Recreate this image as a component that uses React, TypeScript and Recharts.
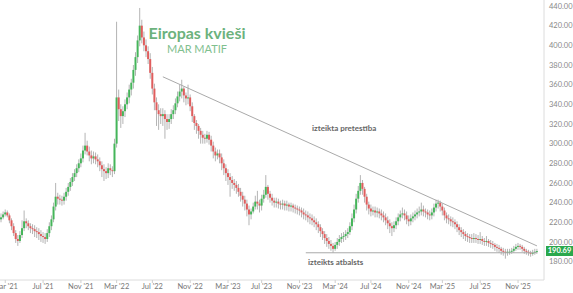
import React from "react";
import { Bar, ComposedChart, ReferenceLine, XAxis, YAxis } from "recharts";

// weekly candles, MAR MATIF wheat, Feb 2021 -> Dec 2025
const opens = [
  223, 225, 228, 230, 227, 222, 216, 209, 203, 201, 207, 214, 221, 219, 216, 214,
  213, 211, 210, 208, 206, 205, 203, 209, 216, 223, 236, 246, 244, 243, 242, 246,
  251, 256, 261, 266, 270, 275, 280, 285, 293, 298, 292, 288, 285, 287, 284, 282,
  278, 274, 272, 270, 275, 273, 272, 300, 347, 335, 328, 333, 340, 347, 355, 362,
  375, 388, 405, 420, 408, 400, 394, 386, 372, 356, 342, 334, 330, 328, 330, 325,
  322, 325, 330, 334, 341, 348, 353, 356, 349, 346, 347, 338, 328, 321, 318, 313,
  309, 306, 305, 309, 304, 298, 292, 288, 290, 286, 280, 275, 270, 266, 263, 260,
  258, 255, 251, 247, 243, 239, 233, 228, 231, 236, 241, 239, 237, 244, 248, 256,
  249, 245, 242, 240, 241, 239, 238, 239, 237, 238, 236, 237, 235, 234, 233, 232,
  230, 228, 227, 225, 224, 222, 220, 218, 215, 211, 208, 204, 201, 198, 196, 193,
  197, 200, 203, 205, 206, 208, 210, 216, 224, 233, 244, 252, 260, 254, 246, 238,
  234, 231, 232, 230, 231, 229, 227, 225, 222, 219, 216, 214, 217, 221, 225, 228,
  229, 227, 223, 221, 224, 226, 228, 230, 231, 233, 231, 230, 228, 227, 230, 235,
  239, 240, 236, 232, 227, 224, 223, 221, 220, 218, 215, 212, 210, 208, 206, 205,
  204, 203, 204, 203, 202, 203, 201, 200, 201, 199, 198, 197, 195, 194, 193, 191,
  190, 189, 190, 190, 191, 193, 195, 196, 195, 193, 191, 190, 189, 188, 189, 190,
];
const highs = [
  229, 231, 233, 232, 229, 224, 219, 212, 207, 211, 222, 232, 224, 222, 219, 218,
  217, 215, 214, 212, 210, 209, 213, 220, 227, 240, 260, 250, 248, 247, 250, 255,
  260, 265, 270, 274, 279, 284, 290, 298, 311, 303, 297, 293, 292, 291, 289, 286,
  282, 279, 276, 280, 279, 277, 305, 424, 355, 340, 338, 345, 352, 360, 366, 380,
  393, 410, 438, 426, 414, 406, 399, 392, 378, 361, 347, 340, 336, 336, 334, 330,
  330, 335, 339, 346, 353, 360, 365, 358, 352, 360, 350, 342, 330, 324, 320, 316,
  313, 310, 313, 312, 308, 302, 296, 294, 294, 290, 284, 279, 274, 270, 267, 264,
  262, 259, 255, 251, 247, 243, 237, 234, 240, 247, 252, 243, 248, 253, 268, 258,
  252, 249, 245, 245, 244, 242, 243, 242, 242, 240, 240, 239, 238, 237, 236, 235,
  234, 232, 231, 229, 228, 226, 224, 221, 218, 214, 211, 208, 205, 202, 199, 200,
  204, 207, 209, 210, 212, 214, 220, 229, 238, 249, 257, 268, 263, 256, 249, 241,
  238, 236, 236, 235, 234, 233, 231, 229, 226, 223, 220, 221, 225, 229, 232, 235,
  233, 231, 227, 228, 230, 232, 234, 236, 240, 237, 234, 233, 232, 234, 239, 243,
  243, 242, 239, 235, 230, 228, 226, 225, 223, 221, 218, 215, 213, 211, 209, 208,
  208, 209, 208, 207, 210, 206, 204, 206, 203, 202, 201, 199, 198, 197, 195, 194,
  193, 193, 193, 194, 196, 198, 199, 198, 197, 195, 193, 192, 191, 192, 193, 193,
];
const lows = [
  220, 223, 226, 225, 219, 212, 206, 199, 196, 199, 204, 211, 214, 212, 209, 208,
  205, 204, 202, 200, 199, 198, 200, 205, 212, 220, 232, 238, 238, 237, 238, 242,
  247, 252, 257, 262, 266, 271, 276, 281, 289, 288, 282, 279, 280, 279, 276, 272,
  266, 262, 264, 265, 268, 266, 269, 296, 323, 316, 320, 327, 335, 341, 349, 356,
  369, 382, 399, 402, 394, 388, 381, 366, 350, 334, 318, 314, 320, 318, 305, 314,
  315, 320, 325, 330, 337, 343, 346, 342, 339, 340, 333, 322, 314, 310, 305, 300,
  300, 300, 301, 299, 292, 285, 282, 284, 280, 273, 268, 262, 258, 246, 254, 252,
  249, 246, 241, 236, 232, 226, 217, 223, 229, 233, 233, 230, 232, 240, 245, 243,
  240, 237, 235, 235, 234, 233, 233, 232, 232, 231, 231, 230, 229, 228, 227, 225,
  223, 222, 220, 218, 217, 215, 212, 209, 205, 202, 198, 195, 193, 191, 189, 191,
  193, 196, 199, 200, 202, 204, 207, 212, 220, 229, 240, 248, 248, 240, 232, 228,
  226, 227, 225, 225, 224, 222, 220, 217, 213, 209, 206, 210, 213, 217, 221, 224,
  222, 218, 216, 217, 220, 222, 224, 226, 227, 226, 225, 223, 222, 223, 226, 231,
  234, 231, 227, 222, 219, 218, 216, 215, 213, 210, 207, 205, 203, 201, 200, 199,
  199, 199, 199, 198, 198, 197, 196, 196, 195, 194, 193, 191, 190, 189, 187, 186,
  183, 186, 187, 188, 189, 191, 192, 192, 190, 188, 187, 186, 185, 186, 187, 188,
];
const closes = [
  225, 228, 230, 227, 222, 216, 209, 203, 201, 207, 214, 221, 219, 216, 214, 213,
  211, 210, 208, 206, 205, 203, 209, 216, 223, 236, 246, 244, 243, 242, 246, 251,
  256, 261, 266, 270, 275, 280, 285, 293, 298, 292, 288, 285, 287, 284, 282, 278,
  274, 272, 270, 275, 273, 272, 300, 347, 335, 328, 333, 340, 347, 355, 362, 375,
  388, 405, 420, 408, 400, 394, 386, 372, 356, 342, 334, 330, 328, 330, 325, 322,
  325, 330, 334, 341, 348, 353, 356, 349, 346, 347, 338, 328, 321, 318, 313, 309,
  306, 305, 309, 304, 298, 292, 288, 290, 286, 280, 275, 270, 266, 263, 260, 258,
  255, 251, 247, 243, 239, 233, 228, 231, 236, 241, 239, 237, 244, 248, 256, 249,
  245, 242, 240, 241, 239, 238, 239, 237, 238, 236, 237, 235, 234, 233, 232, 230,
  228, 227, 225, 224, 222, 220, 218, 215, 211, 208, 204, 201, 198, 196, 193, 197,
  200, 203, 205, 206, 208, 210, 216, 224, 233, 244, 252, 260, 254, 246, 238, 234,
  231, 232, 230, 231, 229, 227, 225, 222, 219, 216, 214, 217, 221, 225, 228, 229,
  227, 223, 221, 224, 226, 228, 230, 231, 233, 231, 230, 228, 227, 230, 235, 239,
  240, 236, 232, 227, 224, 223, 221, 220, 218, 215, 212, 210, 208, 206, 205, 204,
  203, 204, 203, 202, 203, 201, 200, 201, 199, 198, 197, 195, 194, 193, 191, 190,
  189, 190, 190, 191, 193, 195, 196, 195, 193, 191, 190, 189, 188, 189, 190, 190.69,
];

// x axis labels sit on these week indices
const tickWeeks = [2, 20, 38, 55, 72, 90, 108, 124, 142, 159, 176, 194, 210, 228, 246];
const tickLabels = [
  "Mar '21", "Jul '21", "Nov '21", "Mar '22", "Jul '22", "Nov '22", "Mar '23", "Jul '23",
  "Nov '23", "Mar '24", "Jul '24", "Nov '24", "Mar '25", "Jul '25", "Nov '25",
];
const priceTicks = [180, 200, 220, 240, 260, 280, 300, 320, 340, 360, 380, 400, 420, 440];

// hand-drawn trend lines: [week, price]
const resistance = [[77, 368], [255, 196]];
const support = [[145, 189], [255, 189]];

const lastPrice = closes[closes.length - 1];

const data = closes.map((c, i) => ({ i, open: opens[i], high: highs[i], low: lows[i], close: c }));

const UP = "#45b55a";
const DOWN = "#e05d5d";
const WICK = "#b4b4b4";
const font = "Lato, 'Open Sans', sans-serif";

function Candle(props: any) {
  const { x, y, width, height, payload } = props;
  if (!payload) return null;
  const { open, close, high, low } = payload;
  const top = Math.min(y, y + height);
  const h = Math.abs(height);
  const k = high - low ? h / (high - low) : 0;
  const cx = x + width / 2;
  const bTop = top + (high - Math.max(open, close)) * k;
  const bBot = top + (high - Math.min(open, close)) * k;
  return (
    <g>
      <line x1={cx} x2={cx} y1={top} y2={top + h} stroke={WICK} strokeWidth={1} />
      <rect x={cx - 1} y={bTop} width={2} height={Math.max(1, bBot - bTop)} fill={close >= open ? UP : DOWN} />
    </g>
  );
}

export default function App() {
  return (
    <div style={{ position: "absolute", left: 0, top: 0, width: 573, height: 293, background: "#fff", fontFamily: font }}>
      <ComposedChart width={573} height={293} data={data} margin={{ top: 0, right: 0, bottom: 0, left: 0 }} barCategoryGap={0}>
        <XAxis
          dataKey="i"
          type="category"
          ticks={tickWeeks}
          interval={0}
          tickFormatter={(v) => tickLabels[tickWeeks.indexOf(v)]}
          height={13}
          padding={{ left: 0, right: 6 }}
          axisLine={{ stroke: "#dcdcdc" }}
          tickLine={{ stroke: "#cfcfcf" }}
          tickSize={3}
          tickMargin={1}
          tick={{ fontSize: 7.5, fill: "#777", fontFamily: font }}
        />
        <YAxis
          orientation="right"
          width={29}
          domain={[161.3, 446.1]}
          ticks={priceTicks}
          interval={0}
          tickFormatter={(v) => v.toFixed(2)}
          axisLine={{ stroke: "#dcdcdc" }}
          tickLine={false}
          tickSize={3}
          tickMargin={2}
          tick={{ fontSize: 7.5, fill: "#888", fontFamily: font }}
        />
        <ReferenceLine
          segment={resistance.map(([w, p]) => ({ x: w, y: p }))}
          stroke="#aaa"
          strokeWidth={1}
        />
        <ReferenceLine
          segment={support.map(([w, p]) => ({ x: w, y: p }))}
          stroke="#aaa"
          strokeWidth={1}
        />
        <Bar dataKey={(d: any) => [d.low, d.high]} shape={Candle} isAnimationActive={false} />
      </ComposedChart>

      <div style={{ position: "absolute", left: 142, top: 24, width: 110, textAlign: "center", color: "#6cb27d", fontWeight: 700, fontSize: 16, lineHeight: "18px" }}>
        Eiropas kvieši
      </div>
      <div style={{ position: "absolute", left: 142, top: 42, width: 110, textAlign: "center", color: "#7fc08f", fontSize: 11, lineHeight: "13px" }}>
        MAR MATIF
      </div>
      <div style={{ position: "absolute", left: 312, top: 123, color: "#666", fontWeight: 700, fontSize: 8, lineHeight: "10px", whiteSpace: "nowrap" }}>
        izteikta pretestība
      </div>
      <div style={{ position: "absolute", left: 308, top: 257, color: "#666", fontWeight: 700, fontSize: 8, lineHeight: "10px", whiteSpace: "nowrap" }}>
        izteikts atbalsts
      </div>
      <div style={{ position: "absolute", left: 546, top: 246, width: 27, height: 10, background: "#2aa84c", color: "#fff", fontWeight: 700, fontSize: 7.5, lineHeight: "10px", textAlign: "center" }}>
        {lastPrice.toFixed(2)}
      </div>
    </div>
  );
}
